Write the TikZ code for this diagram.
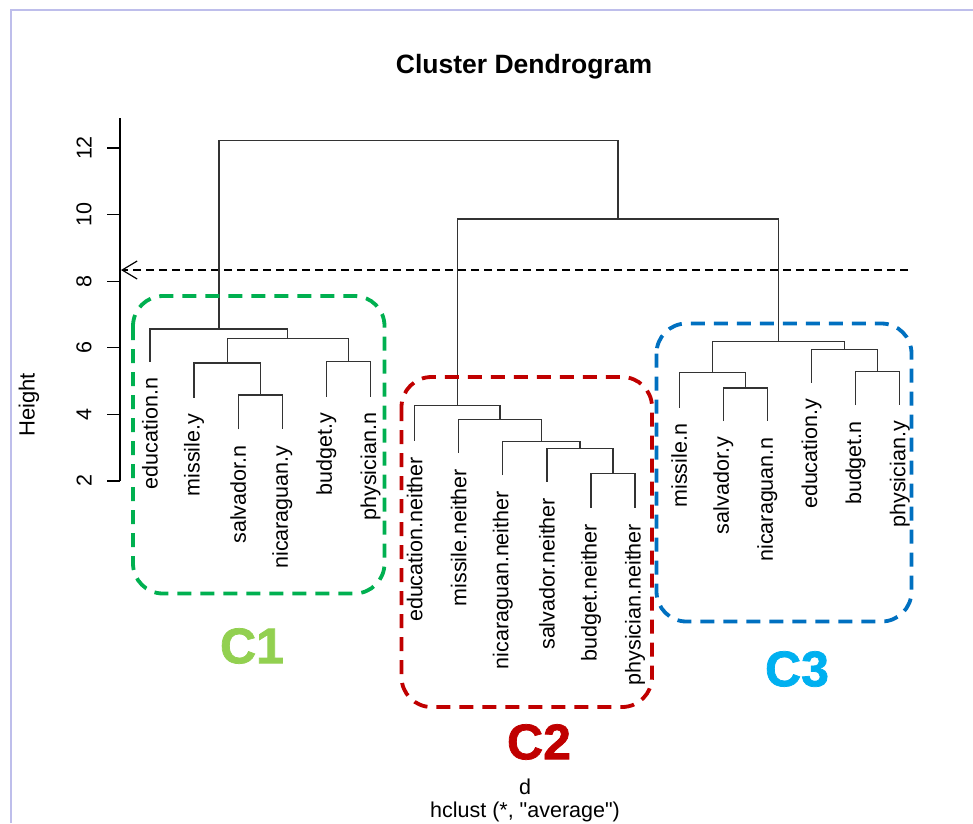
\documentclass[tikz,border=0pt]{standalone}
\usepackage{fontspec}
\setmainfont{Liberation Sans}[Ligatures=TeXOff]
\newfontfamily\heavyfont[FakeBold=1.5]{Liberation Sans}
\usetikzlibrary{arrows.meta}
\definecolor{frameblue}{RGB}{190,190,235}
\definecolor{cgreen}{RGB}{0,176,80}
\definecolor{cred}{RGB}{192,0,0}
\definecolor{cblue}{RGB}{0,112,192}
\definecolor{lgreen}{RGB}{146,208,80}
\definecolor{lblue}{RGB}{0,176,240}
\begin{document}
\begin{tikzpicture}[x=1pt,y=-1pt,
  dend/.style={draw=black!80, line width=1.3pt},
  axisline/.style={draw=black, line width=1.3pt},
  leaf/.style={anchor=east, rotate=90, inner sep=0pt, font=\fontsize{21.5}{24}\selectfont},
  ticklab/.style={rotate=90, inner sep=0pt, font=\fontsize{21.5}{24}\selectfont},
  clbox/.style={line width=3.8pt, rounded corners=30pt, dash pattern=on 14pt off 9pt},
  cllab/.style={font=\heavyfont\bfseries\fontsize{50}{56}\selectfont, inner sep=0pt},
  plain/.style={font=\fontsize{21.5}{24}\selectfont, inner sep=0pt}]
\useasboundingbox (0,0) rectangle (973,823);
\fill[white] (0,0) rectangle (973,823);
\draw[frameblue, line width=1.6pt] (11,823) -- (11,10) -- (973,10);

% title
\node[font=\fontsize{26.5}{30}\selectfont\bfseries, inner sep=0pt] (title) at (524,67) {Cluster Dendrogram};

% axis
\draw[axisline] (120,118) -- (120,481);
\foreach \h/\yy in {2/481,4/414.4,6/347.8,8/281.2,10/214.6,12/148}{
  \draw[axisline] (107,\yy) -- (120,\yy);
  \node[ticklab] at (84,\yy) {\h};
}
\node[ticklab, font=\fontsize{22}{24}\selectfont] (ylab) at (29,405) {Height};

% cut line
\coordinate (cutR) at (908,270);
\coordinate (cutL) at (121,270);
\draw[black, line width=1.2pt, dash pattern=on 8pt off 5pt, -{Straight Barb[length=15pt,width=18pt,line width=1.2pt]}] (cutR) -- (cutL);

% top merges
\draw[dend] (218.9,329) -- (218.9,140.7) -- (617.9,140.7) -- (617.9,219);
\draw[dend] (457.3,405.7) -- (457.3,219) -- (778.4,219) -- (778.4,341.3);

% C1
\draw[dend] (150,361.7) -- (150,329) -- (287.8,329) -- (287.8,338.3);
\draw[dend] (227.2,363) -- (227.2,338.3) -- (348.45,338.3) -- (348.45,361.3);
\draw[dend] (194.1,397.7) -- (194.1,363) -- (260.25,363) -- (260.25,395);
\draw[dend] (238.2,429.3) -- (238.2,395) -- (282.3,395) -- (282.3,429.3);
\draw[dend] (326.4,396.7) -- (326.4,361.3) -- (370.5,361.3) -- (370.5,396.7);

% C2
\draw[dend] (414.6,440.7) -- (414.6,405.7) -- (500,405.7) -- (500,419.3);
\draw[dend] (458.7,452.7) -- (458.7,419.3) -- (541.4,419.3) -- (541.4,441.3);
\draw[dend] (502.8,475) -- (502.8,441.3) -- (580,441.3) -- (580,448.3);
\draw[dend] (546.9,481.7) -- (546.9,448.3) -- (613.05,448.3) -- (613.05,473.3);
\draw[dend] (591,507.7) -- (591,473.3) -- (635.1,473.3) -- (635.1,507.7);

% C3
\draw[dend] (712.3,372.7) -- (712.3,341.3) -- (844.6,341.3) -- (844.6,349.7);
\draw[dend] (679.2,407.7) -- (679.2,372.7) -- (745.35,372.7) -- (745.35,388);
\draw[dend] (723.3,421) -- (723.3,388) -- (767.4,388) -- (767.4,421);
\draw[dend] (811.5,382.7) -- (811.5,349.7) -- (877.65,349.7) -- (877.65,371.3);
\draw[dend] (855.6,405) -- (855.6,371.3) -- (899.7,371.3) -- (899.7,405);

% leaf labels
\foreach \x/\yb/\t in {150/361.7/education.n, 194.1/397.7/missile.y, 238.2/429.3/salvador.n, 282.3/429.3/nicaraguan.y, 326.4/396.7/budget.y, 370.5/396.7/physician.n,
 414.6/440.7/education.neither, 458.7/452.7/missile.neither, 502.8/475/nicaraguan.neither, 546.9/481.7/salvador.neither, 591/507.7/budget.neither, 635.1/507.7/physician.neither,
 679.2/407.7/missile.n, 723.3/421/salvador.y, 767.4/421/nicaraguan.n, 811.5/382.7/education.y, 855.6/405/budget.n, 899.7/405/physician.y}{
  \node[leaf] at (\x,\yb+16) {\t};
}

% cluster boxes
\draw[clbox, cgreen] (133,296) rectangle (384.5,593.5);
\draw[clbox, cred] (401.5,377) rectangle (652,707);
\draw[clbox, cblue] (656.5,323.5) rectangle (911.5,621.5);

\node[cllab, text=lgreen] (c1) at (252,646) {C1};
\node[cllab, text=cred] (c2) at (539,742) {C2};
\node[cllab, text=lblue] (c3) at (797,669) {C3};

% bottom labels
\node[plain] (dlab) at (525,787) {d};
\node[plain] (hlab) at (525,812) {hclust (*, "average")};
\end{tikzpicture}
\end{document}
